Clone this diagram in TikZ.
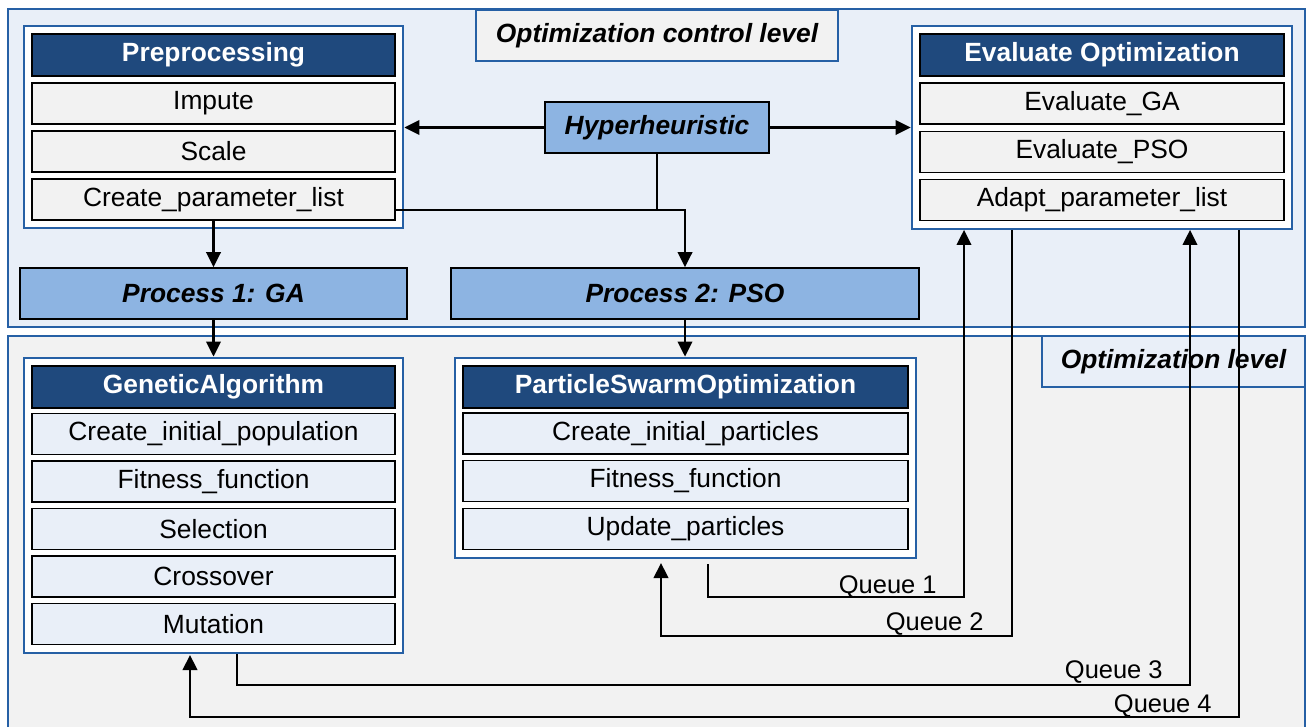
\documentclass[tikz,border=0pt]{standalone}
\usepackage{fontspec}
\setmainfont{Liberation Sans}
\usetikzlibrary{arrows.meta, positioning, fit, backgrounds, calc}
\definecolor{frameblue}{RGB}{38, 96, 165}
\definecolor{hdrblue}{RGB}{31, 73, 125}
\definecolor{procblue}{RGB}{141, 180, 226}
\definecolor{paleblue}{RGB}{233, 239, 248}
\definecolor{palegrey}{RGB}{242, 242, 242}
\tikzset{
  hdr/.style     = {rectangle, draw=black, line width=1pt, fill=hdrblue, text=white, minimum height=0.84cm, inner sep=0pt, font=\fontsize{15}{18}\selectfont\bfseries},
  itmg/.style    = {rectangle, draw=black, line width=1pt, fill=palegrey, minimum height=0.82cm, inner sep=0pt, font=\fontsize{15}{18}\selectfont},
  itmb/.style    = {itmg, fill=paleblue},
  proc/.style    = {rectangle, draw=black, line width=1pt, fill=procblue, minimum height=1.02cm, inner sep=0pt, font=\fontsize{15}{18}\selectfont\bfseries\itshape},
  grp/.style     = {rectangle, draw=frameblue, line width=1.2pt, fill=white, inner sep=0.15cm},
  lvl/.style     = {rectangle, draw=frameblue, line width=0.8pt, minimum height=1.02cm, inner sep=0pt, font=\fontsize{15}{18}\selectfont\bfseries\itshape},
  region/.style  = {draw=frameblue, line width=1.2pt},
  flow/.style    = {-{Triangle[length=0.3cm, width=0.29cm]}, line width=1.3pt, black},
  link/.style    = {line width=1.3pt, black},
  qlbl/.style    = {inner sep=0pt, font=\fontsize{14.5}{17}\selectfont},
}

\begin{document}
\begin{tikzpicture}[x=0.02cm, y=-0.02cm]

\useasboundingbox (0,0) rectangle (1307,727);

% ==================== 两个层级背景 ====================
\begin{scope}[on background layer]
    \draw[region, fill=paleblue] (8,9) rectangle (1305,327);
    \fill[palegrey] (8,336) rectangle (1305,727);
    \draw[region] (8,727) -- (8,336) -- (1305,336) -- (1305,727);
\end{scope}

\node[lvl, fill=palegrey, minimum width=7.24cm] (ctl) at (657,35.5) {Optimization control level};
\node[lvl, fill=paleblue, minimum width=5.26cm] (olv) at (1173.5,361.5) {Optimization level};

% ==================== Preprocessing ====================
\node[hdr,  minimum width=7.26cm] (pre)  at (213.5,55)    {Preprocessing};
\node[itmg, minimum width=7.26cm] (pre1) at (213.5,103.5) {Impute};
\node[itmg, minimum width=7.26cm] (pre2) at (213.5,151.5) {Scale};
\node[itmg, minimum width=7.26cm] (pre3) at (213.5,199.5) {Create\_parameter\_list};

\begin{scope}[on background layer]
    \node[grp, fit=(pre)(pre3)] (PRE) {};
\end{scope}

% ==================== Evaluate Optimization ====================
\node[hdr,  minimum width=7.28cm] (eva)  at (1102,55)    {Evaluate Optimization};
\node[itmg, minimum width=7.28cm] (eva1) at (1102,103.5) {Evaluate\_GA};
\node[itmg, minimum width=7.28cm] (eva2) at (1102,152)   {Evaluate\_PSO};
\node[itmg, minimum width=7.28cm] (eva3) at (1102,200)   {Adapt\_parameter\_list};

\begin{scope}[on background layer]
    \node[grp, fit=(eva)(eva3)] (EVA) {};
\end{scope}

% ==================== Hyperheuristic / Processes ====================
\node[proc, minimum width=4.48cm] (hyp) at (657,127.5) {Hyperheuristic};
\node[proc, minimum width=7.74cm] (p1)  at (213.5,293.5) {Process 1: GA};
\node[proc, minimum width=9.36cm] (p2)  at (685,293.5)   {Process 2: PSO};

% ==================== GeneticAlgorithm ====================
\node[hdr,  minimum width=7.26cm] (ga)  at (213.5,387)   {GeneticAlgorithm};
\node[itmb, minimum width=7.26cm] (ga1) at (213.5,434)   {Create\_initial\_population};
\node[itmb, minimum width=7.26cm] (ga2) at (213.5,481.5) {Fitness\_function};
\node[itmb, minimum width=7.26cm] (ga3) at (213.5,529)   {Selection};
\node[itmb, minimum width=7.26cm] (ga4) at (213.5,576.5) {Crossover};
\node[itmb, minimum width=7.26cm] (ga5) at (213.5,624)   {Mutation};

\begin{scope}[on background layer]
    \node[grp, fit=(ga)(ga5)] (GA) {};
\end{scope}

% ==================== ParticleSwarmOptimization ====================
\node[hdr,  minimum width=8.9cm] (pso)  at (685.5,387)   {ParticleSwarmOptimization};
\node[itmb, minimum width=8.9cm] (pso1) at (685.5,433.5) {Create\_initial\_particles};
\node[itmb, minimum width=8.9cm] (pso2) at (685.5,481)   {Fitness\_function};
\node[itmb, minimum width=8.9cm] (pso3) at (685.5,529)   {Update\_particles};

\begin{scope}[on background layer]
    \node[grp, fit=(pso)(pso3)] (PSO) {};
\end{scope}

% ==================== 控制层箭头 ====================
\draw[flow] (hyp.west) -- (hyp.west -| PRE.east);
\draw[flow] (hyp.east) -- (hyp.east -| EVA.west);

\coordinate (hjn) at (685,210);
\draw[link] (hyp.south) -- (hyp.south |- hjn);
\draw[flow] (pre3.east |- hjn) -| (p2.north);

\draw[flow] (pre3.south) -- (p1.north);
\draw[flow] (p1.south) -- (GA.north);
\draw[flow] (p2.south) -- (p2.south |- PSO.north);

% ==================== Queues ====================
\coordinate (q1a) at (708,564);
\coordinate (q1b) at (964,597);
\draw[flow] (q1a) |- (q1b) -- (q1b |- EVA.south);
\node[qlbl, anchor=base east] (q1) at (937,593) {Queue 1};

\coordinate (q2a) at (1012,636);
\coordinate (q2b) at (661,563);
\draw[flow] (q2a |- EVA.south) -- (q2a) -| (q2b);
\node[qlbl, anchor=base east] (q2) at (984,630) {Queue 2};

\coordinate (q3a) at (237,685);
\coordinate (q3b) at (1190,685);
\draw[flow] (q3a |- GA.south) -- (q3a) -- (q3b) -- (q3b |- EVA.south);
\node[qlbl, anchor=base east] (q3) at (1163,678) {Queue 3};

\coordinate (q4a) at (1239,717);
\coordinate (q4b) at (190,655);
\draw[flow] (q4a |- EVA.south) -- (q4a) -| (q4b);
\node[qlbl, anchor=base east] (q4) at (1212,712) {Queue 4};

\end{tikzpicture}
\end{document}
